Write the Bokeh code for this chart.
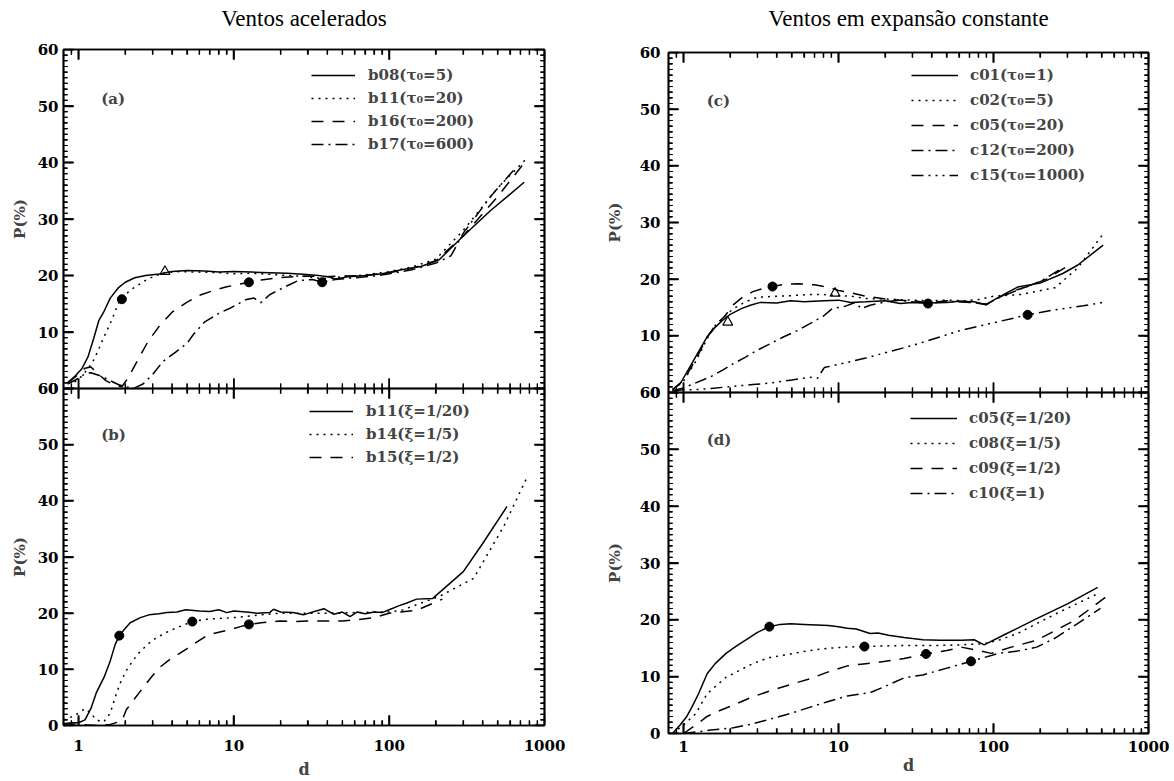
import math
from bokeh.plotting import figure
from bokeh.models import (Range1d, FixedTicker, Legend, LegendItem, Label, PrintfTickFormatter,
                          CustomJSTickFormatter, LinearAxis, LogAxis)
from bokeh.layouts import row, column
from bokeh.embed import file_html
from bokeh.resources import INLINE

# ---------------- data ----------------
X_RANGE = (0.8, 1000)
Y_RANGE = (0, 60)
x_ticks = [1, 10, 100]
x_minor = [0.9, 2, 3, 4, 5, 6, 7, 8, 9, 20, 30, 40, 50, 60, 70, 80, 90,
           200, 300, 400, 500, 600, 700, 800, 900]
x_labels = [1, 10, 100, 1000]
y_ticks = [0, 10, 20, 30, 40, 50, 60]
y_minor = list(range(0, 61))

# panel (a)  Ventos acelerados, varying tau0
a_b08_x = [0.85, 0.95, 1.05, 1.15, 1.25, 1.35, 1.45, 1.6, 1.8, 2.0, 2.3, 2.7, 3.2, 4.0, 5.0, 6.5, 8.0, 10, 13, 17,
           22, 28, 35, 40, 45, 55, 70, 90, 120, 160, 210, 300, 450, 740]
a_b08_y = [1.0, 2.2, 3.5, 5.6, 8.8, 12.0, 13.5, 16.0, 17.8, 18.8, 19.6, 20.0, 20.2, 20.7, 20.9, 20.8, 20.6, 20.7, 20.6, 20.5,
           20.4, 20.2, 20.0, 19.8, 19.4, 19.8, 20.0, 20.3, 21.0, 21.6, 22.8, 27.0, 31.5, 36.5]
a_b11_x = [0.85, 0.95, 1.05, 1.15, 1.25, 1.35, 1.45, 1.6, 1.85, 2.2, 2.8, 3.5, 4.5, 6, 8, 10, 13, 17, 22, 30,
           38, 50, 70, 100, 140, 200, 300, 500, 780]
a_b11_y = [1.0, 1.2, 2.2, 3.5, 5.0, 7.0, 9.0, 11.5, 15.8, 17.6, 19.4, 20.5, 20.7, 20.6, 20.5, 20.3, 20.4, 20.2, 20.0, 19.8,
           19.4, 19.8, 20.1, 20.7, 21.5, 22.9, 28.0, 35.5, 40.9]
a_b16_x = [0.85, 1.0, 1.1, 1.2, 1.35, 1.5, 1.7, 1.9, 2.1, 2.4, 2.8, 3.3, 4.0, 5.0, 6.0, 7.5, 9.0, 11, 12.5, 15,
           19, 24, 30, 38, 50, 70, 100, 140, 200, 300, 500, 720]
a_b16_y = [1.0, 2.5, 3.6, 3.8, 2.5, 1.4, 0.6, 0.3, 2.0, 5.0, 8.3, 11.0, 13.5, 15.3, 16.5, 17.4, 18.0, 18.5, 18.8, 19.2,
           19.6, 19.8, 19.9, 19.8, 19.9, 20.0, 20.5, 21.3, 22.6, 27.0, 34.0, 39.5]
a_b17_x = [0.85, 1.0, 1.1, 1.2, 1.4, 1.6, 1.8, 2.0, 2.3, 2.6, 3.0, 3.5, 4.2, 5.0, 5.5, 6.5, 8.0, 9.6, 11.9, 13.5,
           14.9, 17, 21, 26, 32, 37, 45, 60, 80, 100, 140, 200, 250, 300, 450, 650]
a_b17_y = [0.8, 1.8, 2.6, 2.8, 2.2, 1.4, 0.7, 0.3, 0.1, 0.8, 2.5, 4.8, 6.4, 8.0, 9.6, 11.8, 13.3, 14.3, 15.7, 16.0,
           15.2, 16.6, 17.9, 19.1, 19.3, 18.8, 19.3, 19.6, 19.9, 20.3, 21.0, 22.2, 23.5, 27.5, 34.0, 39.0]
a_dot_x = [1.9, 12.5, 37]
a_dot_y = [15.8, 18.8, 18.8]
a_tri_x = [3.6]
a_tri_y = [20.7]
a_labels = ["b08(τ₀=5)", "b11(τ₀=20)", "b16(τ₀=200)", "b17(τ₀=600)"]

# panel (b)  Ventos acelerados, varying xi
b_b11_x = [0.8, 0.9, 1.0, 1.1, 1.2, 1.3, 1.46, 1.6, 1.72, 1.83, 2.0, 2.15, 2.5, 2.84, 3.3, 3.7, 4.3, 4.9, 6, 7,
           8, 9, 10, 12, 14, 17, 18, 20, 24, 28, 33, 38, 44, 50, 56, 62, 70, 80, 90, 100,
           115, 130, 150, 190, 300, 400, 574]
b_b11_y = [0.3, 0.5, 0.5, 1.0, 3.0, 5.8, 8.6, 11.5, 14.4, 16.0, 17.3, 18.3, 19.2, 19.7, 19.9, 20.1, 20.2, 20.6, 20.4, 20.3,
           20.6, 20.1, 20.4, 20.2, 20.0, 20.1, 20.7, 20.2, 20.1, 19.7, 20.3, 20.8, 19.8, 20.2, 19.4, 20.2, 19.9, 20.2, 20.1, 20.6,
           21.3, 21.8, 22.5, 22.6, 27.4, 32.4, 39.0]
b_b14_x = [0.8, 0.95, 1.1, 1.2, 1.3, 1.45, 1.6, 1.72, 1.85, 2.03, 2.2, 2.4, 2.8, 3.2, 3.7, 4.2, 5.4, 6.5, 8.6, 11,
           14.9, 20, 30, 40, 60, 80, 100, 120, 150, 211, 350, 550, 760]
b_b14_y = [1.0, 1.8, 3.0, 2.2, 1.0, 0.6, 2.2, 5.0, 7.5, 9.8, 11.2, 12.7, 14.5, 15.7, 16.6, 17.3, 18.5, 18.9, 19.1, 19.3,
           19.7, 20.0, 20.0, 20.0, 20.1, 20.2, 20.2, 20.5, 21.5, 23.0, 26.2, 35.6, 43.8]
b_b15_x = [0.8, 1.0, 1.3, 1.6, 1.9, 2.03, 2.3, 2.68, 3.0, 3.35, 3.8, 4.4, 5.0, 5.5, 6.9, 8.0, 9.6, 11, 12.5, 15,
           19.7, 25, 30, 40, 50, 60, 80, 100, 150, 200, 220]
b_b15_y = [0.3, 0.2, 0.0, 0.2, 0.8, 2.8, 4.8, 7.2, 8.9, 10.4, 11.6, 12.7, 13.7, 14.5, 16.2, 16.6, 17.1, 17.6, 18.0, 18.3,
           18.6, 18.5, 18.6, 18.6, 18.6, 18.8, 19.2, 20.0, 20.5, 22.0, 22.5]
b_dot_x = [1.83, 5.4, 12.5]
b_dot_y = [16.0, 18.5, 18.0]
b_labels = ["b11(ξ=1/20)", "b14(ξ=1/5)", "b15(ξ=1/2)"]

# panel (c)  Ventos em expansao constante, varying tau0
c_c01_x = [0.85, 0.95, 1.13, 1.3, 1.42, 1.6, 1.78, 2.0, 2.36, 2.7, 3.13, 4.0, 4.9, 6, 8, 10, 12, 15, 20, 25,
           30, 38, 50, 60, 75, 90, 100, 120, 143, 200, 280, 350, 510]
c_c01_y = [0.5, 1.5, 5.1, 8.0, 9.8, 11.5, 12.7, 13.8, 14.8, 15.4, 15.9, 15.8, 16.2, 16.0, 16.2, 16.3, 15.9, 16.0, 16.2, 15.7,
           15.9, 15.8, 15.9, 16.1, 16.0, 15.5, 16.3, 17.5, 18.6, 19.3, 21.0, 22.5, 26.0]
c_c02_x = [0.85, 1.0, 1.2, 1.42, 1.6, 1.85, 2.1, 2.5, 3.0, 4.0, 5.0, 6.5, 8.0, 10, 12, 15, 20, 30, 40, 50,
           65, 80, 100, 150, 250, 350, 510]
c_c02_y = [0.5, 2.0, 5.5, 9.5, 11.8, 13.5, 14.8, 16.0, 16.8, 17.0, 17.1, 17.3, 17.3, 17.1, 17.0, 16.6, 16.5, 16.3, 16.2, 16.3,
           16.2, 16.4, 17.0, 17.3, 18.5, 22.0, 28.0]
c_c05_x = [0.85, 1.0, 1.2, 1.42, 1.6, 1.85, 2.1, 2.4, 2.8, 3.3, 3.75, 4.5, 5.5, 7.0, 8.5, 10, 12, 15, 20, 25,
           30, 38, 50, 70, 90, 100, 130, 170, 220, 300]
c_c05_y = [0.5, 2.2, 5.8, 9.8, 11.8, 13.5, 15.5, 16.8, 17.8, 18.4, 18.7, 19.1, 19.2, 19.0, 18.6, 18.0, 17.6, 17.0, 16.5, 16.3,
           16.2, 15.8, 16.2, 16.0, 15.5, 16.3, 17.8, 18.8, 20.0, 22.3]
c_c12_x = [0.85, 1.0, 1.2, 1.5, 1.8, 2.1, 2.5, 2.96, 3.5, 4.4, 5.5, 6.5, 8.0, 9.1, 11, 12.8, 14, 16, 20, 25,
           30, 38, 50, 70, 90, 110, 150, 200, 280]
c_c12_y = [0.3, 0.8, 1.7, 2.8, 4.0, 5.1, 6.2, 7.4, 8.4, 9.8, 11.0, 12.1, 13.5, 14.8, 15.2, 15.9, 14.8, 15.4, 16.0, 16.3,
           16.0, 15.7, 16.1, 15.9, 15.6, 16.8, 18.3, 19.6, 22.0]
c_c15_x = [0.85, 1.0, 1.2, 1.5, 2.1, 2.8, 3.7, 5.0, 6.5, 7.3, 8.1, 11.4, 15, 20, 30, 45, 62, 100, 166, 250,
           380, 510]
c_c15_y = [0.3, 0.5, 0.5, 0.7, 1.1, 1.4, 1.7, 2.2, 2.7, 2.5, 4.4, 5.3, 6.1, 7.0, 8.3, 9.8, 11.0, 12.3, 13.7, 14.6,
           15.3, 15.9]
c_dot_x = [3.75, 37.8, 166]
c_dot_y = [18.7, 15.7, 13.7]
c_tri_x = [1.93, 9.5]
c_tri_y = [12.4, 17.5]
c_labels = ["c01(τ₀=1)", "c02(τ₀=5)", "c05(τ₀=20)", "c12(τ₀=200)", "c15(τ₀=1000)"]

# panel (d)  Ventos em expansao constante, varying xi
d_c05_x = [0.85, 0.95, 1.05, 1.13, 1.25, 1.42, 1.6, 1.88, 2.2, 2.5, 3.0, 3.58, 4.2, 4.9, 6.0, 7.2, 8.6, 10, 11.4, 13,
           16, 18, 21, 26.5, 35, 45, 62, 75, 87, 120, 190, 300, 470]
d_c05_y = [0.0, 1.5, 3.0, 4.6, 7.0, 10.5, 12.3, 14.1, 15.4, 16.4, 17.8, 18.8, 19.2, 19.3, 19.2, 19.1, 19.0, 18.8, 18.5, 18.4,
           17.6, 17.7, 17.3, 16.9, 16.5, 16.4, 16.4, 16.5, 15.6, 17.5, 20.2, 22.8, 25.7]
d_c08_x = [0.85, 1.0, 1.2, 1.42, 1.88, 2.8, 3.5, 4.9, 6.5, 8.6, 11, 14.7, 20, 26.5, 35, 46, 62, 87, 110, 143,
           250, 470]
d_c08_y = [0.0, 1.5, 3.5, 7.0, 9.9, 12.3, 13.3, 14.0, 14.6, 15.0, 15.2, 15.3, 15.4, 15.5, 15.5, 15.5, 15.6, 15.8, 16.5, 17.6,
           21.0, 24.6]
d_c09_x = [1.0, 1.2, 1.42, 1.7, 2.1, 2.7, 3.7, 5.0, 6.5, 8.5, 11.4, 14, 18, 26.5, 36.7, 50, 62, 80, 97, 130,
           190, 333, 580]
d_c09_y = [0.0, 1.5, 3.0, 4.0, 5.0, 6.3, 7.6, 8.7, 9.6, 10.8, 11.9, 12.2, 12.5, 13.2, 14.0, 14.6, 15.2, 14.6, 14.1, 15.2,
           16.4, 19.9, 24.8]
d_c10_x = [1.0, 1.5, 2.1, 2.8, 3.7, 5.0, 6.5, 8.5, 11.4, 16, 20, 26.5, 35, 50, 71.6, 108, 150, 190, 250, 333,
           490]
d_c10_y = [0.0, 0.6, 1.0, 1.7, 2.6, 3.6, 4.6, 5.6, 6.6, 7.2, 8.3, 9.8, 10.3, 11.5, 12.7, 14.1, 14.6, 15.2, 16.8, 19.0,
           22.0]
d_dot_x = [3.58, 14.7, 36.7, 71.6]
d_dot_y = [18.8, 15.3, 14.0, 12.7]
d_labels = ["c05(ξ=1/20)", "c08(ξ=1/5)", "c09(ξ=1/2)", "c10(ξ=1)"]

titles = ["Ventos acelerados", "Ventos em expansão constante"]
panel_tags = ["(a)", "(b)", "(c)", "(d)"]

# ---------------- styling ----------------
FONT = "DejaVu Serif"
SOLID, DOT, DASH, DASHDOT, DASH3DOT = "solid", "2 5", "12 9", "12 5 2 5", "12 5 2 5 2 5 2 5"


def tick_style(ax, minor_len):
    ax.axis_line_width = 1.7
    ax.axis_line_color = "black"
    ax.major_tick_line_color = "black"
    ax.minor_tick_line_color = "black"
    ax.major_tick_line_width = 1.5
    ax.minor_tick_line_width = 1.2
    ax.major_tick_in = 10
    ax.major_tick_out = 0
    ax.minor_tick_in = minor_len
    ax.minor_tick_out = 0


def label_style(ax, standoff):
    ax.major_label_text_font = FONT
    ax.major_label_text_font_style = "bold"
    ax.major_label_text_font_size = "15px"
    ax.major_label_text_color = "black"
    ax.major_label_standoff = standoff


def blank_labels(ax, horizontal):
    ax.formatter = CustomJSTickFormatter(code="return ''")
    ax.major_label_standoff = 0
    ax.major_label_orientation = "vertical" if horizontal else "horizontal"


def add_ticks(p, frame_w, frame_h):
    """Inward tick marks on all four sides: thin filled bars centred on the frame edge
    (the outer half is clipped by the frame), plus segments starting on the edge."""
    x0, x1 = X_RANGE
    y0, y1 = Y_RANGE
    px_dec = frame_w / math.log10(x1 / x0)
    px_y = frame_h / (y1 - y0)
    for ticks, L, w in ((x_ticks, 10, 1.5), (x_minor, 5, 1.2)):
        n = len(ticks)
        dy = L / px_y
        for yy, sgn in ((y0, 1), (y1, -1)):
            p.rect(x=ticks, y=[yy] * n, width=w, height=2 * L, width_units="screen",
                   height_units="screen", fill_color="black", line_color=None)
            p.segment(x0=ticks, y0=[yy] * n, x1=ticks, y1=[yy + sgn * dy] * n,
                      line_color="black", line_width=w)
    for ticks, L, w in ((y_ticks, 10, 1.5), (y_minor, 4, 1.1)):
        n = len(ticks)
        f = 10 ** (L / px_dec)
        for xx, fac in ((x0, f), (x1, 1 / f)):
            p.rect(x=[xx] * n, y=ticks, width=2 * L, height=w, width_units="screen",
                   height_units="screen", fill_color="black", line_color=None)
            p.segment(x0=[xx] * n, y0=ticks, x1=[xx * fac] * n, y1=ticks,
                      line_color="black", line_width=w)


def make_panel(width, height, bl, br, bt, bb, title=None, title_so=19,
               xlabels=False, ylab_so=5, yaxlab_so=6, xlab_so=14, xaxlab_so=6, mtop=0):
    p = figure(width=width, height=height, x_axis_type="log",
               x_range=Range1d(*X_RANGE), y_range=Range1d(*Y_RANGE),
               output_backend="svg", toolbar_location=None,
               x_axis_location="below" if xlabels else None,
               min_border_left=bl, min_border_right=br, min_border_top=bt, min_border_bottom=bb)
    if mtop:
        p.margin = (mtop, 0, 0, 0)
    p.grid.visible = False
    p.outline_line_color = "black"
    p.outline_line_width = 1.7
    p.border_fill_color = None
    p.background_fill_color = None

    if xlabels:
        xa = p.xaxis[0]
        xa.ticker = FixedTicker(ticks=x_labels, minor_ticks=x_minor)
        xa.formatter = PrintfTickFormatter(format="%d")
        tick_style(xa, 5)
        label_style(xa, xlab_so)
        xa.axis_label = "d"
        xa.axis_label_text_font = FONT
        xa.axis_label_text_font_style = "bold"
        xa.axis_label_text_font_size = "16px"
        xa.axis_label_standoff = xaxlab_so

    ya = p.yaxis[0]
    ya.ticker = FixedTicker(ticks=y_ticks, minor_ticks=y_minor)
    tick_style(ya, 4)
    label_style(ya, ylab_so)
    ya.axis_label = "P(%)"
    ya.axis_label_text_font = FONT
    ya.axis_label_text_font_style = "bold"
    ya.axis_label_text_font_size = "15px"
    ya.axis_label_standoff = yaxlab_so

    ra = LinearAxis(ticker=FixedTicker(ticks=y_ticks, minor_ticks=y_minor))
    tick_style(ra, 4)
    blank_labels(ra, horizontal=False)
    p.add_layout(ra, "right")

    ta = LogAxis(ticker=FixedTicker(ticks=x_labels, minor_ticks=x_minor))
    tick_style(ta, 5)
    blank_labels(ta, horizontal=True)
    if title:
        ta.axis_label = title
        ta.axis_label_text_font = "Liberation Serif"
        ta.axis_label_text_font_style = "normal"
        ta.axis_label_text_font_size = "23px"
        ta.axis_label_text_color = "black"
        ta.axis_label_standoff = title_so
    p.add_layout(ta, "above")
    return p


def add_curves(p, series, labels, loc, glyph_w, lab_h, standoff):
    items = []
    for (xs, ys, dash), lab in zip(series, labels):
        r = p.line(xs, ys, line_color="black", line_width=1.5, line_dash=dash)
        items.append(LegendItem(label=lab, renderers=[r]))
    leg = Legend(items=items, location=loc, glyph_width=glyph_w, glyph_height=lab_h,
                 label_height=lab_h, spacing=3, padding=0, margin=0,
                 border_line_color=None, background_fill_alpha=0,
                 label_text_font=FONT, label_text_font_style="bold",
                 label_text_font_size="15px", label_standoff=standoff)
    p.add_layout(leg)


def add_tag(p, x, y, text):
    p.add_layout(Label(x=x, y=y, text=text, text_font=FONT, text_font_style="bold",
                       text_font_size="15px", text_baseline="middle", text_align="left"))


# ---------------- left column ----------------
pa = make_panel(590, 398, 63, 46, 49, 10, title=titles[0], title_so=19)
add_curves(pa, [(a_b08_x, a_b08_y, SOLID), (a_b11_x, a_b11_y, DOT),
                (a_b16_x, a_b16_y, DASH), (a_b17_x, a_b17_y, DASHDOT)],
           a_labels, (248, 234), 44, 20, 13)
pa.scatter(a_dot_x, a_dot_y, marker="circle", size=9, fill_color="black", line_color="black")
pa.scatter(a_tri_x, a_tri_y, marker="triangle", size=10, fill_alpha=0, line_color="black", line_width=1.2)
add_tag(pa, 1.4, 51.3, panel_tags[0])
add_ticks(pa, 481, 339)

pb = make_panel(590, 403, 63, 46, 10, 52, xlabels=True, xlab_so=14, xaxlab_so=6, mtop=-20)
add_curves(pb, [(b_b11_x, b_b11_y, SOLID), (b_b14_x, b_b14_y, DOT), (b_b15_x, b_b15_y, DASH)],
           b_labels, (246, 258), 44, 20, 13)
pb.scatter(b_dot_x, b_dot_y, marker="circle", size=9, fill_color="black", line_color="black")
add_tag(pb, 1.4, 51.7, panel_tags[1])
add_ticks(pb, 481, 341)

# ---------------- right column ----------------
pc = make_panel(584, 402, 78, 26, 52, 10, title=titles[1], title_so=22, ylab_so=8, yaxlab_so=13)
add_curves(pc, [(c_c01_x, c_c01_y, SOLID), (c_c02_x, c_c02_y, DOT), (c_c05_x, c_c05_y, DASH),
                (c_c12_x, c_c12_y, DASHDOT), (c_c15_x, c_c15_y, DASH3DOT)],
           c_labels, (243, 206), 47, 22, 12)
pc.scatter(c_dot_x, c_dot_y, marker="circle", size=9, fill_color="black", line_color="black")
pc.scatter(c_tri_x, c_tri_y, marker="triangle", size=10, fill_alpha=0, line_color="black", line_width=1.2)
add_tag(pc, 1.41, 51.5, panel_tags[2])
add_ticks(pc, 480, 340)

pd_ = make_panel(584, 399, 78, 26, 10, 48, xlabels=True, ylab_so=8, yaxlab_so=13,
                 xlab_so=7, xaxlab_so=1, mtop=-20)
add_curves(pd_, [(d_c05_x, d_c05_y, SOLID), (d_c08_x, d_c08_y, DOT), (d_c09_x, d_c09_y, DASH),
                 (d_c10_x, d_c10_y, DASHDOT)],
           d_labels, (242, 229), 47, 22, 12)
pd_.scatter(d_dot_x, d_dot_y, marker="circle", size=9, fill_color="black", line_color="black")
add_tag(pd_, 1.41, 51.6, panel_tags[3])
add_ticks(pd_, 480, 341)

layout = row(column(pa, pb), column(pc, pd_))
open("out.html", "w").write(file_html(layout, INLINE, "P(%) vs d"))
